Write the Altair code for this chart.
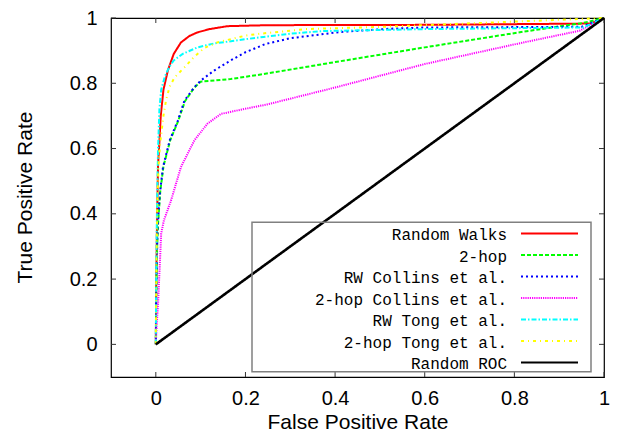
import altair as alt
import pandas as pd

series_names = ["Random Walks", "2-hop", "RW Collins et al.", "2-hop Collins et al.",
                "RW Tong et al.", "2-hop Tong et al.", "Random ROC"]
series_colors = ["#ff0000", "#00ff00", "#0000ff", "#ff00ff", "#00ffff", "#ffff00", "#000000"]
series_dashes = [[1, 0], [4, 2], [2, 3], [1.2, 1], [5, 2, 1.5, 2], [3, 4, 1, 4], [1, 0]]

fpr_rw = [0, 0.001, 0.003, 0.005, 0.008, 0.011, 0.017, 0.027, 0.04, 0.056, 0.075, 0.093, 0.12, 0.16, 0.25, 0.6, 0.97, 1.0]
tpr_rw = [0, 0.2, 0.4, 0.55, 0.62, 0.7, 0.78, 0.84, 0.89, 0.925, 0.945, 0.956, 0.966, 0.975, 0.978, 0.979, 0.983, 1.0]

fpr_2hop = [0, 0.001, 0.003, 0.005, 0.01, 0.017, 0.032, 0.05, 0.065, 0.085, 0.1, 0.167, 0.244, 0.4, 0.6, 0.82, 0.954, 1.0]
tpr_2hop = [0, 0.15, 0.3, 0.37, 0.47, 0.545, 0.625, 0.685, 0.745, 0.785, 0.805, 0.813, 0.829, 0.865, 0.91, 0.958, 0.985, 1.0]

fpr_rwc = [0, 0.001, 0.003, 0.004, 0.009, 0.016, 0.031, 0.049, 0.064, 0.086, 0.1, 0.13, 0.167, 0.2, 0.244, 0.3, 0.41, 0.52, 0.6, 0.95, 1.0]
tpr_rwc = [0, 0.15, 0.3, 0.36, 0.462, 0.543, 0.625, 0.685, 0.747, 0.788, 0.808, 0.839, 0.87, 0.895, 0.92, 0.938, 0.957, 0.967, 0.971, 0.973, 1.0]

fpr_2hc = [0, 0.002, 0.005, 0.009, 0.012, 0.018, 0.034, 0.056, 0.086, 0.115, 0.145, 0.2, 0.248, 0.4, 0.6, 0.82, 0.946, 1.0]
tpr_2hc = [0, 0.06, 0.125, 0.248, 0.34, 0.38, 0.441, 0.543, 0.625, 0.676, 0.706, 0.722, 0.735, 0.787, 0.859, 0.925, 0.961, 1.0]

fpr_rwt = [0, 0.001, 0.003, 0.005, 0.008, 0.012, 0.02, 0.03, 0.04, 0.06, 0.093, 0.13, 0.2, 0.24, 0.3, 0.373, 0.6, 0.954, 1.0]
tpr_rwt = [0, 0.25, 0.45, 0.6, 0.72, 0.78, 0.82, 0.85, 0.87, 0.89, 0.91, 0.922, 0.935, 0.942, 0.952, 0.96, 0.966, 0.971, 1.0]

fpr_2ht = [0, 0.001, 0.003, 0.006, 0.01, 0.017, 0.023, 0.031, 0.042, 0.064, 0.085, 0.108, 0.137, 0.2, 0.226, 0.336, 0.505, 0.82, 1.0]
tpr_2ht = [0, 0.2, 0.4, 0.55, 0.62, 0.7, 0.75, 0.79, 0.818, 0.849, 0.88, 0.908, 0.925, 0.946, 0.951, 0.966, 0.973, 0.99, 1.0]

fpr_rand = [0, 1]
tpr_rand = [0, 1]

xticks = [0, 0.2, 0.4, 0.6, 0.8, 1]
yticks = [0, 0.2, 0.4, 0.6, 0.8, 1]

curves = [(fpr_rw, tpr_rw), (fpr_2hop, tpr_2hop), (fpr_rwc, tpr_rwc), (fpr_2hc, tpr_2hc),
          (fpr_rwt, tpr_rwt), (fpr_2ht, tpr_2ht)]
rows = []
for name, (xs, ys) in zip(series_names[:6], curves):
    for i, (a, b) in enumerate(zip(xs, ys)):
        rows.append({"series": name, "fpr": a, "tpr": b, "i": i})
df = pd.DataFrame(rows)
df_rand = pd.DataFrame({"series": "Random ROC", "fpr": fpr_rand, "tpr": tpr_rand, "i": [0, 1]})

W, H = 493, 359

X = alt.X("fpr:Q", scale=alt.Scale(domain=[-0.1, 1], nice=False, zero=False),
          axis=alt.Axis(values=xticks, format="~g", labelPadding=11, title="False Positive Rate",
                        titleY=51, titleBaseline="alphabetic"))
Y = alt.Y("tpr:Q", scale=alt.Scale(domain=[-0.1, 1], nice=False, zero=False),
          axis=alt.Axis(values=yticks, format="~g", labelPadding=14, title="True Positive Rate",
                        titleX=-86, titleY=179, titleAngle=270, titleAlign="center",
                        titleBaseline="middle"))

color = alt.Color("series:N", scale=alt.Scale(domain=series_names, range=series_colors), legend=None)
dash = alt.StrokeDash("series:N", scale=alt.Scale(domain=series_names, range=series_dashes), legend=None)

lines = alt.Chart(df).mark_line(strokeWidth=2).encode(
    x=X, y=Y, color=color, strokeDash=dash, order=alt.Order("i:Q"), detail="series:N")
rand_line = alt.Chart(df_rand).mark_line(strokeWidth=2.6).encode(
    x=X, y=Y, color=color, strokeDash=dash, order=alt.Order("i:Q"))

df_xt = pd.DataFrame({"fpr": xticks})
df_yt = pd.DataFrame({"tpr": yticks})
tick_style = dict(color="#333333", strokeWidth=1)
t_left = alt.Chart(df_yt).mark_rule(**tick_style).encode(y=Y, x=alt.value(0), x2=alt.value(5))
t_right = alt.Chart(df_yt).mark_rule(**tick_style).encode(y=Y, x=alt.value(W - 5), x2=alt.value(W))
t_bottom = alt.Chart(df_xt).mark_rule(**tick_style).encode(x=X, y=alt.value(H - 5), y2=alt.value(H))
t_top = alt.Chart(df_xt).mark_rule(**tick_style).encode(x=X, y=alt.value(0), y2=alt.value(5))

leg = pd.DataFrame({"series": series_names, "row": list(range(len(series_names)))})
leg_base = alt.Chart(leg).transform_calculate(
    ty="217.3 + datum.row * 21.5", ly="215.5 + datum.row * 21.5")
leg_text = leg_base.mark_text(align="right", baseline="middle", font="Liberation Mono",
                              fontSize=16, color="black").encode(
    x=alt.value(396), y=alt.Y("ty:Q", scale=None), text="series:N")
leg_lines = leg_base.mark_rule(strokeWidth=2).encode(
    x=alt.value(410), x2=alt.value(467), y=alt.Y("ly:Q", scale=None), color=color, strokeDash=dash)
leg_box = alt.Chart(alt.InlineData(values=[{"k": 1}])).mark_rect(
    filled=False, stroke="#808080", strokeWidth=1.5).encode(
    x=alt.value(141), x2=alt.value(480), y=alt.value(204.3), y2=alt.value(353.7))

chart = alt.layer(
    t_left, t_right, t_bottom, t_top, lines, rand_line, leg_box, leg_lines, leg_text
).properties(
    width=W, height=H,
    padding={"left": 103, "top": 10, "right": 7, "bottom": 56},
    autosize=alt.AutoSizeParams(type="none"),
).configure_view(stroke="black", strokeWidth=1.2).configure_axis(
    grid=False, domain=False, ticks=False,
    labelFont="Liberation Sans", labelFontSize=20, labelColor="black",
    titleFont="Liberation Sans", titleFontSize=21, titleFontWeight="normal", titleColor="black",
    labelFlush=False, labelOverlap=False)

chart.save("out.html", embed_options={"renderer": "svg", "actions": False})
